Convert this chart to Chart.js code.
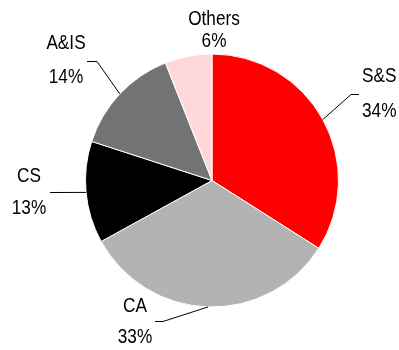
<!DOCTYPE html>
<html>
<head>
<meta charset="utf-8">
<script src="https://cdn.jsdelivr.net/npm/chart.js@4.4.1/dist/chart.umd.min.js"></script>
<style>
  html, body { margin: 0; padding: 0; background: #fff; }
  #wrap { width: 399px; height: 350px; }
</style>
</head>
<body>
<div id="wrap"><canvas id="segChart" width="399" height="350"></canvas></div>
<script>
const segments = ['S&S', 'CA', 'CS', 'A&IS', 'Others'];
const shares = [34, 33, 13, 14, 6];
const sliceColors = ['#ff0000', '#b3b3b3', '#000000', '#737373', '#ffd9d9'];

// label placement, pixels from pie centre: name/pct baselines, leader elbow + end
const labelLayout = [
    { x: 150, name: -99, pct: -64, align: 'left', elbow: [139, -86], end: [147, -86] },
    { x: -77, name: 131, pct: 162, align: 'center', elbow: [-49, 141], end: [-57, 141] },
    { x: -183, name: 1, pct: 33, align: 'center', elbow: [-162, 12], end: [-162, 12] },
    { x: -146, name: -132, pct: -98, align: 'center', elbow: [-115, -119], end: [-125, -119] },
    { x: 2, name: -156, pct: -134, align: 'center', elbow: null }
];

function drawNarrow(ctx, txt, x, y, align) {
    const sx = 0.82;
    ctx.save();
    ctx.translate(x, y);
    ctx.scale(sx, 1);
    ctx.textAlign = align;
    ctx.fillText(txt, 0, 0);
    ctx.restore();
}

const pieLabels = {
    id: 'pieLabels',
    afterDraw(chart) {
        const ctx = chart.ctx;
        const arcs = chart.getDatasetMeta(0).data;
        ctx.save();
        ctx.font = '21px "Liberation Sans", Arial, sans-serif';
        ctx.fillStyle = '#000';
        ctx.strokeStyle = '#000';
        ctx.lineWidth = 1;
        ctx.textBaseline = 'alphabetic';
        arcs.forEach((arc, i) => {
            const p = arc.getProps(['x', 'y', 'startAngle', 'endAngle', 'outerRadius'], true);
            const cx = p.x, cy = p.y;
            const L = labelLayout[i];
            if (L.elbow) {
                const mid = (p.startAngle + p.endAngle) / 2;
                ctx.beginPath();
                ctx.moveTo(cx + Math.cos(mid) * p.outerRadius, cy + Math.sin(mid) * p.outerRadius);
                ctx.lineTo(cx + L.elbow[0], cy + L.elbow[1]);
                ctx.lineTo(cx + L.end[0], cy + L.end[1]);
                ctx.stroke();
            }
            drawNarrow(ctx, segments[i], cx + L.x, cy + L.name, L.align);
            drawNarrow(ctx, shares[i] + '%', cx + L.x, cy + L.pct, L.align);
        });
        ctx.restore();
    }
};

new Chart(document.getElementById('segChart').getContext('2d'), {
    type: 'pie',
    data: {
        labels: segments,
        datasets: [{
            data: shares,
            backgroundColor: sliceColors,
            borderColor: '#ffffff',
            borderWidth: 1
        }]
    },
    options: {
        responsive: false,
        animation: false,
        layout: { padding: { left: 85, right: 60, top: 53, bottom: 42 } },
        plugins: {
            legend: { display: false },
            tooltip: { enabled: false }
        }
    },
    plugins: [pieLabels]
});
</script>
</body>
</html>
